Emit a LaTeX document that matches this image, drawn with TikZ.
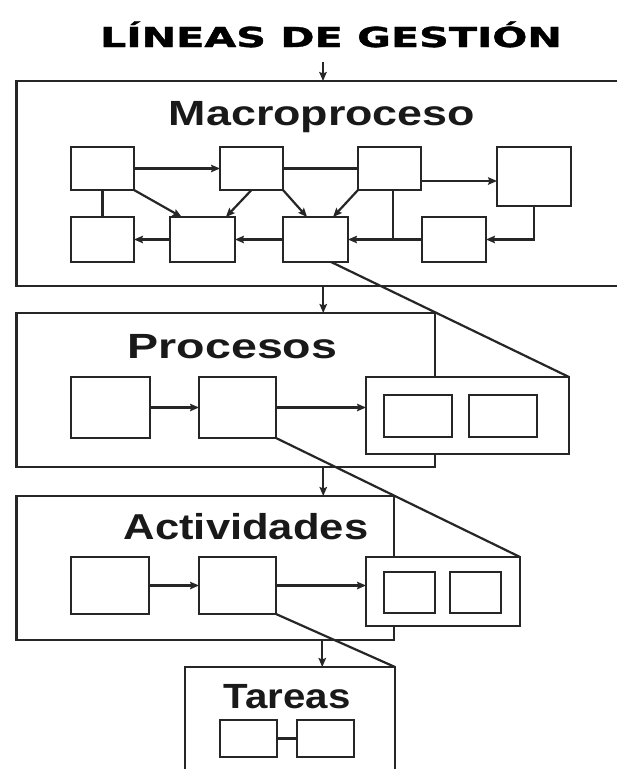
\documentclass[tikz,border=0pt]{standalone}
\usepackage{fontspec}
\setmainfont{Liberation Sans}
\newfontfamily\headfont[BoldFeatures={FakeBold=1.2}]{DejaVu Sans}
\usetikzlibrary{arrows.meta,calc}

\begin{document}
\begin{tikzpicture}[x=1pt,y=-1pt,
  ink/.style={draw=black!85, line width=2.3pt},
  blk/.style={ink, rectangle, inner sep=0pt, outer sep=0pt},
  sz/.style 2 args={minimum width=#1pt, minimum height=#2pt},
  zoombox/.style={blk, fill=white},
  conn/.style={ink, line width=2.2pt},
  arr/.style={conn, -{Stealth[length=9pt,width=7.5pt,inset=1.5pt]}},
  lbl/.style={inner sep=0pt, anchor=base, text=black!90,
    font=\bfseries\fontsize{35}{40}\selectfont},
  headlbl/.style={inner sep=0pt, anchor=base, text=black,
    font=\headfont\bfseries\fontsize{27.5}{32}\selectfont}]

% page
\useasboundingbox[fill=white] (0,0) rectangle (617,769);

% heading
\node[headlbl] (head) at (331,47) {\scalebox{1.5}[1]{LÍNEAS DE GESTIÓN}};
\coordinate (entry) at (323,62);

% ---------- level boxes ----------
\node[blk, sz={613.5}{205}] (macro) at (323.25,183.5) {};
\node[blk, sz={418.5}{154}] (proc)  at (225.75,390) {};
\node[blk, sz={377.5}{144}] (act)   at (205.25,568) {};
\node[blk, sz={210}{123}]   (tar)   at (290,728.5) {};

\node[lbl] (tmacro) at (322,125)   {\scalebox{1.28}[1]{Macroproceso}};
\node[lbl] (tproc)  at (232.5,358) {\scalebox{1.33}[1]{Procesos}};
\node[lbl, font=\bfseries\fontsize{36}{40}\selectfont] (tact) at (246,539) {\scalebox{1.21}[1]{Actividades}};
\node[lbl] (ttar)   at (287,708)   {\scalebox{1.15}[1]{Tareas}};

% flow between levels
\draw[arr] (entry) -- (entry |- macro.north);
\draw[arr] (macro.south) -- (macro.south |- proc.north);
\draw[arr] (macro.south |- proc.south) -- (macro.south |- act.north);
\draw[arr] ($(macro.south |- act.south)+(-1,0)$) -- ($(macro.south |- tar.north)+(-1,0)$);

% ---------- macroproceso network ----------
\node[blk, sz={63}{43}] (b1) at (102.5,168.5) {};
\node[blk, sz={63}{43}] (b2) at (251.5,168.5) {};
\node[blk, sz={63}{43}] (b3) at (389.5,168.5) {};
\node[blk, sz={74}{59}] (b4) at (534,176.5) {};
\node[blk, sz={63}{45}] (c1) at (102.5,239.5) {};
\node[blk, sz={65}{45}] (c2) at (202.5,239.5) {};
\node[blk, sz={65}{45}] (c3) at (315.5,239.5) {};
\node[blk, sz={64}{45}] (c4) at (454,239.5) {};

\draw[arr] (b1.east) -- (b2.west);
\draw[conn] (b2.east) -- (b3.west);
\draw[arr] (b3.east |- 0,181) -- (b4.west |- 0,181);
\draw[conn] (b1.south) -- (c1.north);
\draw[arr] (b1.south east) -- ($(c2.north west)!0.18!(c2.north east)$);
\draw[arr] (b2.south) -- ($(c2.north west)!0.86!(c2.north east)$);
\draw[arr] (b2.south east) -- ($(c3.north west)!0.37!(c3.north east)$);
\draw[arr] (b3.south west) -- ($(c3.north west)!0.77!(c3.north east)$);
\coordinate (join) at ($(b3.south west)!0.56!(b3.south east)$);
\draw[conn] (join) -- (join |- c3.east);
\draw[arr] (c4.west) -- (c3.east);
\draw[arr] (c3.west) -- (c2.east);
\draw[arr] (c2.west) -- (c1.east);
\draw[arr] (b4.south) |- (c4.east);

% ---------- procesos ----------
\node[blk, sz={79}{61}] (p1) at (110.5,407.5) {};
\node[blk, sz={77}{61}] (p2) at (237.5,407.5) {};

% ---------- actividades ----------
\node[blk, sz={78}{57}] (a1) at (110,585.5) {};
\node[blk, sz={77}{57}] (a2) at (237.5,585.5) {};

% ---------- tareas ----------
\node[blk, sz={57}{37}] (t1) at (248.5,738.5) {};
\node[blk, sz={57}{37}] (t2) at (325.5,738.5) {};
\draw[conn] (t1.east) -- (t2.west);

% ---------- expansion boxes (drawn over the level frames) ----------
\node[zoombox, sz={203}{77}] (z1) at (467.5,415.5) {};
\node[blk, sz={68}{42}] (z1a) at (418,416) {};
\node[blk, sz={68}{42}] (z1b) at (503,416) {};

\node[zoombox, sz={154}{69}] (z2) at (443,591.5) {};
\node[blk, sz={51}{41}] (z2a) at (409.5,592.5) {};
\node[blk, sz={51}{41}] (z2b) at (475.5,592.5) {};

\draw[arr] (p1.east) -- (p2.west);
\draw[arr] (p2.east) -- (p2.east -| z1.west);
\draw[arr] (a1.east) -- (a2.west);
\draw[arr] (a2.east) -- (a2.east -| z2.west);

% expansion guide lines
\draw[conn] ($(c3.south west)!0.74!(c3.south east)$) -- (z1.north east);
\draw[conn] (p2.south east) -- (z2.north east);
\draw[conn] (a2.south east) -- (tar.north east);
\end{tikzpicture}
\end{document}
